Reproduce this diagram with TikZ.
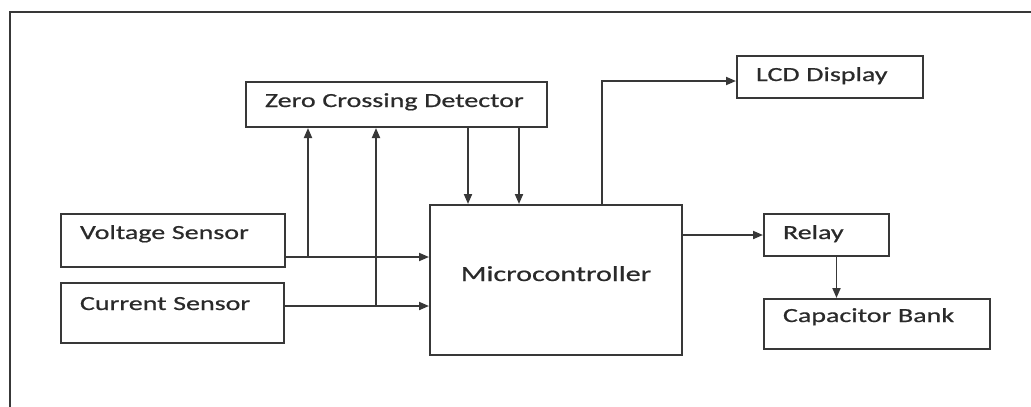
\documentclass[tikz,border=0pt]{standalone}
\usepackage{fontspec}
\setmainfont{Carlito}[FakeStretch=1.4,FakeBold=0.7]
\usetikzlibrary{arrows.meta}
\usetikzlibrary{positioning}
\definecolor{linegray}{HTML}{383838}
\definecolor{textgray}{HTML}{2A2A2A}
\tikzset{
  block/.style={
    draw=linegray,
    rectangle,
    anchor=north west,
    inner xsep=19pt,
    inner ysep=0pt,
    align=left,
    text=textgray,
    line width=2pt,
    node font=\fontsize{20}{24}\selectfont,
  },
  flow/.style={
    draw=linegray,
    -{Triangle[length=10pt,width=8pt]},
    line width=1.9pt,
  },
  panel/.style={
    draw=linegray,
    line width=2.2pt,
  },
}

\begin{document}
\begin{tikzpicture}[x=1pt,y=-1pt]
  \useasboundingbox (0,0) rectangle (1031,407);
  \draw [panel] (1031,12) -| (10,407);

  \node (zcd)   [block,text width=263pt,text height=25pt,text depth=20pt] at (245,81)  {\mbox{Zero Crossing Detector}};
  \node (lcd)   [block,text width=148pt,text height=25pt,text depth=17pt] at (736,55)  {LCD Display};
  \node (volt)  [block,text width=186pt,text height=25pt,text depth=28pt] at (60,213)  {Voltage Sensor};
  \node (curr)  [block,text width=185pt,text height=27pt,text depth=33pt,
                 below=14pt of volt.south west,anchor=north west]                     {Current Sensor};
  \node (micro) [block,align=center,text width=214pt,text height=76pt,text depth=74pt,
                 node font=\fontsize{21.5}{24}\selectfont] at (429,204)              {Microcontroller};
  \node (relay) [block,text width=87pt,text height=25pt,text depth=17pt] at (763,213)  {Relay};
  \node (cap)   [block,text width=188pt,text height=23pt,text depth=27pt,
                 below=41pt of relay.south west,anchor=north west]                    {Capacitor Bank};

  % taps where the sensor lines branch up to the detector
  \coordinate (vtap) at (308,257);
  \coordinate (ctap) at (376,306);

  \path [flow] (volt.east |- vtap) -- (micro.west |- vtap);
  \path [flow] (vtap) -- (vtap |- zcd.south);
  \path [flow] (curr.east |- ctap) -- (micro.west |- ctap);
  \path [flow] (ctap) -- (ctap |- zcd.south);

  \path [flow] ([xshift=71.5pt]zcd.south) -- ([xshift=71.5pt]zcd.south |- micro.north);
  \path [flow] ([xshift=122.5pt]zcd.south) -- ([xshift=122.5pt]zcd.south |- micro.north);

  \path [flow] ([xshift=46pt]micro.north) |- ([yshift=-4pt]lcd.west);
  \path [flow] (micro.east |- relay.west) -- (relay.west);
  \path [flow] ([xshift=10pt]relay.south) -- ([xshift=10pt]relay.south |- cap.north);
\end{tikzpicture}
\end{document}
